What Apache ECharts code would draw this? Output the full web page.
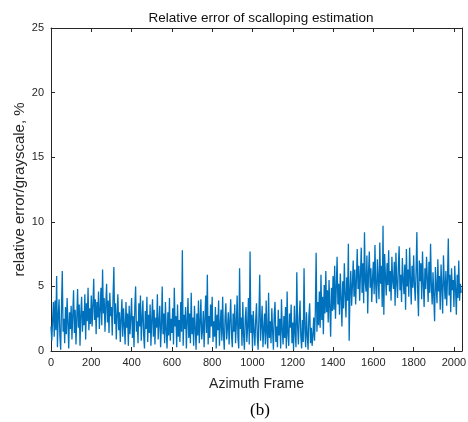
<!DOCTYPE html>
<html>
<head>
<meta charset="utf-8">
<script src="https://cdn.jsdelivr.net/npm/echarts@6/dist/echarts.min.js"></script>
<style>
  html, body { margin: 0; padding: 0; background: #fff; }
  #chart { width: 468px; height: 422px; }
</style>
</head>
<body>
<div id="chart"></div>
<script>
// one sample every 4 azimuth frames
const frameStep = 4;
const relError = [
  1.9, 0.8, 2.4, 3.8, 1.1, 3.9, 1.6, 5.8, 0.3, 2.7, 4.0, 1.2, 0.1, 3.3, 6.2, 1.5, 2.5, 0.6, 3.4, 1.3, 4.1, 2.2, 0.2, 3.0, 1.7,
  3.5, 0.9, 2.8, 4.7, 1.4, 3.2, 0.5, 2.6, 4.8, 1.8, 3.6, 0.4, 2.9, 4.2, 1.5, 3.1, 2.0, 4.4, 0.9, 3.7, 2.3, 4.9, 1.6, 3.3, 2.1,
  4.3, 1.9, 3.5, 5.6, 2.4, 4.0, 1.3, 3.8, 2.6, 4.6, 1.7, 3.2, 4.9, 2.0, 6.3, 2.9, 4.1, 1.5, 3.6, 5.2, 2.2, 3.9, 1.4, 4.5, 2.7,
  3.4, 1.2, 4.2, 6.5, 2.1, 3.7, 0.9, 2.8, 4.4, 1.6, 3.0, 0.7, 2.5, 4.0, 1.1, 3.3, 2.0, 0.5, 3.8, 1.8, 2.9, 0.4, 3.5, 1.3, 2.6,
  4.1, 1.0, 2.7, 0.3, 3.4, 5.0, 1.5, 2.3, 0.6, 3.7, 1.9, 4.3, 0.8, 2.5, 3.9, 1.2, 0.2, 3.1, 1.7, 4.2, 0.7, 2.8, 1.4, 3.6, 0.4,
  2.4, 4.0, 1.1, 3.2, 0.5, 2.6, 1.8, 4.4, 0.9, 2.2, 3.5, 0.3, 1.9, 5.0, 1.3, 2.9, 0.6, 3.8, 1.6, 0.2, 3.0, 1.2, 4.1, 0.8, 2.5,
  1.4, 3.3, 0.5, 4.9, 1.9, 2.7, 0.3, 3.6, 1.1, 2.4, 0.7, 3.8, 1.5, 7.8, 0.4, 2.8, 1.7, 3.4, 0.2, 2.3, 4.1, 1.0, 2.9, 0.6, 4.5,
  1.3, 2.6, 0.4, 3.5, 1.8, 0.1, 2.9, 1.2, 3.9, 0.6, 2.2, 4.0, 0.9, 1.6, 3.1, 0.3, 2.5, 4.3, 1.4, 5.9, 0.5, 2.7, 1.0, 3.6, 1.9,
  4.2, 0.7, 2.3, 1.1, 3.4, 0.2, 2.8, 1.6, 3.9, 0.4, 2.0, 3.2, 0.8, 4.2, 1.3, 0.1, 2.6, 3.7, 0.9, 1.8, 3.0, 0.5, 2.4, 4.0, 1.2,
  0.3, 2.9, 1.5, 3.6, 0.6, 2.1, 4.3, 1.0, 0.2, 6.4, 1.7, 2.6, 0.4, 3.8, 1.2, 0.1, 2.5, 3.4, 0.7, 1.9, 4.1, 0.5, 7.7, 1.4, 2.8,
  0.2, 3.1, 1.6, 0.4, 2.4, 3.7, 1.1, 0.1, 2.7, 5.9, 0.8, 2.0, 3.5, 0.3, 1.7, 2.9, 0.5, 3.9, 1.3, 0.2, 4.5, 1.0, 2.3, 0.6, 3.3,
  1.5, 0.1, 2.8, 3.8, 0.7, 1.9, 0.3, 3.2, 1.2, 2.5, 0.2, 4.0, 1.6, 0.5, 2.7, 1.0, 3.4, 0.2, 4.6, 1.3, 0.4, 2.9, 1.8, 3.6, 0.6,
  2.2, 0.1, 3.5, 1.4, 0.3, 6.1, 1.9, 0.5, 2.6, 3.9, 1.1, 0.2, 2.4, 0.7, 6.4, 1.6, 0.3, 3.0, 1.2, 0.1, 2.7, 3.7, 0.6, 1.8, 0.4,
  1.2, 2.6, 0.8, 3.1, 7.6, 1.5, 3.8, 2.0, 4.6, 1.8, 5.9, 2.4, 4.2, 1.3, 5.1, 2.9, 6.2, 3.0, 4.7, 2.2, 5.5, 3.4, 1.1, 4.9, 3.1,
  5.8, 3.2, 6.6, 2.5, 4.9, 7.3, 3.6, 5.2, 2.8, 6.0, 4.1, 1.9, 5.4, 3.3, 6.8, 4.4, 2.6, 5.7, 3.9, 8.3, 0.8, 4.6, 6.2, 3.5, 5.0,
  7.0, 4.2, 6.3, 3.6, 5.5, 7.9, 4.8, 6.6, 3.9, 5.9, 8.0, 4.5, 6.8, 3.7, 9.2, 5.3, 4.6, 7.4, 2.9, 6.1, 7.7, 4.9, 6.4, 3.8, 5.6,
  6.9, 4.4, 8.2, 5.0, 3.7, 7.1, 5.6, 4.0, 8.4, 5.2, 6.6, 3.4, 9.7, 2.8, 7.5, 5.8, 4.3, 6.8, 5.1, 7.8, 4.6, 6.2, 3.9, 7.3, 5.4,
  4.8, 6.9, 3.5, 7.6, 5.3, 4.1, 6.5, 8.1, 4.7, 5.9, 3.8, 7.2, 5.5, 4.4, 6.7, 3.2, 7.9, 5.0, 6.3, 4.2, 8.0, 5.7, 3.6, 6.6, 4.9,
  7.4, 5.1, 3.9, 6.2, 9.2, 4.6, 2.7, 7.0, 5.4, 6.8, 4.0, 7.7, 5.2, 3.4, 6.4, 4.8, 7.3, 5.6, 3.8, 6.9, 4.5, 8.3, 5.0, 3.6, 6.1,
  4.2, 2.3, 6.5, 5.0, 3.7, 7.1, 4.6, 5.8, 3.2, 6.7, 4.9, 2.9, 7.4, 5.3, 4.0, 6.2, 3.5, 5.6, 8.7, 4.3, 5.9, 3.0, 6.4, 4.7, 5.5,
  3.4, 6.6, 4.8, 2.8, 5.9, 4.1, 7.0, 3.9, 5.2, 4.5
];

const xTicks = { min: 0, max: 2040, interval: 200 };
const yTicks = { min: 0, max: 25, interval: 5 };

const points = relError.map((v, i) => [i * frameStep, v]);

const chart = echarts.init(document.getElementById('chart'));

const labelFont = { fontFamily: 'Liberation Sans', fontSize: 11, color: '#262626' };
const lineStyle = { color: '#262626', width: 1 };

// matlab-like box: axis line + inward ticks on every side
const boxAxis = (extra) => Object.assign({
  type: 'value',
  axisLine: { show: true, onZero: false, lineStyle: lineStyle },
  axisTick: { show: true, inside: true, length: 4, lineStyle: lineStyle },
  axisLabel: { show: false },
  splitLine: { show: false }
}, extra);

chart.setOption({
  animation: false,
  title: {
    text: 'Relative error of scalloping estimation',
    left: 256, top: 6, textAlign: 'center',
    textStyle: { fontFamily: 'Liberation Sans', fontSize: 13.5, fontWeight: 'normal', color: '#111' }
  },
  grid: { left: 51, right: 6, top: 28, bottom: 71, outerBoundsMode: 'none' },
  xAxis: [
    boxAxis({
      position: 'bottom', min: xTicks.min, max: xTicks.max, interval: xTicks.interval,
      name: 'Azimuth Frame', nameLocation: 'middle', nameGap: 26, nameMoveOverlap: false,
      nameTextStyle: { fontFamily: 'Liberation Sans', fontSize: 14, color: '#262626' },
      axisLabel: Object.assign({ show: true, margin: 6, showMaxLabel: false, formatter: (v) => String(v) }, labelFont)
    }),
    boxAxis({ position: 'top', min: xTicks.min, max: xTicks.max, interval: xTicks.interval })
  ],
  yAxis: [
    boxAxis({
      position: 'left', min: yTicks.min, max: yTicks.max, interval: yTicks.interval,
      name: 'relative error/grayscale, %', nameLocation: 'middle', nameGap: 24, nameMoveOverlap: false,
      nameTextStyle: { fontFamily: 'Liberation Sans', fontSize: 15, color: '#262626' },
      axisLabel: Object.assign({ show: true, margin: 7 }, labelFont)
    }),
    boxAxis({ position: 'right', min: yTicks.min, max: yTicks.max, interval: yTicks.interval })
  ],
  graphic: [{
    type: 'text', left: 250, top: 402,
    style: { text: '(b)', fontFamily: 'Liberation Serif', fontSize: 17, fill: '#000' }
  }],
  series: [{
    type: 'line',
    data: points,
    showSymbol: false,
    lineStyle: { color: '#0072BD', width: 1.3 },
    silent: true
  }]
});
</script>
</body>
</html>
